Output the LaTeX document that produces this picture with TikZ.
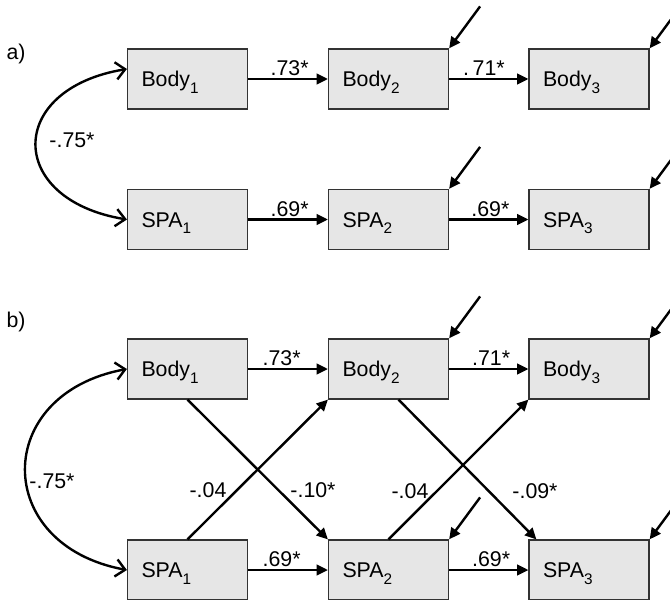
\documentclass[tikz,border=0pt]{standalone}
\usepackage{fontspec}
\setmainfont{Liberation Sans}
\usetikzlibrary{arrows.meta,calc}
\definecolor{boxfill}{HTML}{E6E6E6}
\definecolor{boxline}{HTML}{333333}
% lowered, smaller index after a variable name
\newcommand\lowsub[1]{\raisebox{-5pt}{\fontsize{11.5}{11.5}\selectfont #1}}
\begin{document}
\begin{tikzpicture}[x=0.75pt,y=-0.75pt,
  font=\fontsize{16}{18}\selectfont,
  var/.style={draw=boxline, line width=0.9pt, fill=boxfill,
    minimum height=45pt, text width=69pt, inner xsep=10.5pt, inner ysep=0pt,
    text height=11.4pt, text depth=0pt, align=left},
  path/.style={line width=1.8pt, -{Triangle[length=8.5pt,width=8pt]}},
  cov/.style={line width=1.8pt,
    {Straight Barb[length=7pt,width=13pt]}-{Straight Barb[length=7pt,width=13pt]}},
  coef/.style={inner sep=1.5pt},
  tag/.style={inner sep=0pt}]
\clip (0,0) rectangle (670,599);

% ---------- panel a ----------
\node[tag] (la) at (16,54) {a)};
\node[var] (aB1) at (187.5,79) {Body\lowsub{1}};
\node[var] (aB2) at (388.5,79) {Body\lowsub{2}};
\node[var] (aB3) at (589,79) {Body\lowsub{3}};
\node[var] (aS1) at (187.5,219.5) {SPA\lowsub{1}};
\node[var] (aS2) at (388.5,219.5) {SPA\lowsub{2}};
\node[var] (aS3) at (589,219.5) {SPA\lowsub{3}};

\draw[path] (aB1) -- node[coef, above, pos=0.52] {.73*} (aB2);
\draw[path] (aB2) -- node[coef, above, pos=0.44] {.\,71*} (aB3);
\draw[path] (aS1) -- node[coef, above, pos=0.52] {.69*} (aS2);
\draw[path] (aS2) -- node[coef, above, pos=0.52] {.69*} (aS3);

\coordinate (aT) at ($(aB1.west)+(0,-10)$);
\coordinate (aTc) at ($(aT)+(-121,20)$);
\coordinate (aBc) at ($(aS1.west)+(-121,-20)$);
\draw[cov] (aT) .. controls (aTc) and (aBc) .. (aS1.west);
\node[tag] (acov) at (72,140) {-.75*};

% ---------- panel b ----------
\node[tag] (lb) at (16,322) {b)};
\node[var] (bB1) at (187.5,369) {Body\lowsub{1}};
\node[var] (bB2) at (388.5,369) {Body\lowsub{2}};
\node[var] (bB3) at (589,369) {Body\lowsub{3}};
\node[var] (bS1) at (187.5,570) {SPA\lowsub{1}};
\node[var] (bS2) at (388.5,570) {SPA\lowsub{2}};
\node[var] (bS3) at (589,570) {SPA\lowsub{3}};

\draw[path] (bB1) -- node[coef, above, pos=0.42] {.73*} (bB2);
\draw[path] (bB2) -- node[coef, above, pos=0.53] {.71*} (bB3);
\draw[path] (bS1) -- node[coef, above, pos=0.42] {.69*} (bS2);
\draw[path] (bS2) -- node[coef, above, pos=0.53] {.69*} (bS3);

% cross-lagged paths
\coordinate (bB2out) at ($(bB2.south)+(10,0)$);
\coordinate (bS3in) at ($(bS3.north west)+(8,0)$);
\draw[path] (bB1.south) -- (bS2.north west);
\draw[path] (bS1.north) -- (bB2.south west);
\draw[path] (bB2out) -- (bS3in);
\draw[path] (bS2.north) -- (bB3.south west);
\node[tag] (c1) at (208,490) {-.04};
\node[tag] (c2) at (313,490) {-.10*};
\node[tag] (c3) at (410,491) {-.04};
\node[tag] (c4) at (535,491) {-.09*};

\coordinate (bT) at (bB1.west);
\coordinate (bTc) at ($(bT)+(-135,25)$);
\coordinate (bBc) at ($(bS1.west)+(-135,-25)$);
\draw[cov] (bT) .. controls (bTc) and (bBc) .. (bS1.west);
\node[tag] (bcov) at (52,481) {-.75*};

% disturbance terms
\foreach \v in {aB2,aB3,aS2,aS3,bB2,bB3,bS2,bS3}{
  \coordinate (e\v) at ($(\v.north east)+(31,-42)$);
  \draw[path] (e\v) -- (\v.north east);
}
\end{tikzpicture}
\end{document}
